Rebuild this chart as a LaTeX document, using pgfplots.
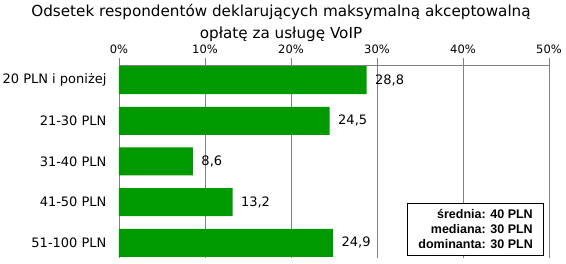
\documentclass[border=0pt]{standalone}
\usepackage{pgfplots}
\pgfplotsset{compat=1.18}
\usepackage{fontspec}
\setmainfont{DejaVu Sans}
\newfontfamily\legfont{Liberation Sans}
\definecolor{bargreen}{RGB}{0,153,0}
\definecolor{gridgray}{RGB}{128,128,128}
\begin{document}
\begin{tikzpicture}[x=1pt,y=1pt]
\useasboundingbox (-119,-6) rectangle (447,258);
\begin{axis}[
  at={(0,0)}, anchor=south west,
  scale only axis, width=430pt, height=193pt,
  xbar, bar width=28pt,
  xmin=0, xmax=50, ymin=-0.37, ymax=4.37, y dir=reverse,
  axis x line*=top, axis y line*=left,
  axis line style={gridgray},
  xtick={0,10,...,50},
  xticklabel={\pgfmathprintnumber{\tick}\%},
  xticklabel style={font=\fontsize{11.5}{14}\selectfont, yshift=1pt},
  tick align=outside, major tick length=7pt,
  tick style={gridgray},
  xmajorgrids, grid style={gridgray},
  ytick={0,1,2,3,4},
  yticklabels={20 PLN i poniżej,21-30 PLN,31-40 PLN,41-50 PLN,51-100 PLN},
  yticklabel style={font=\fontsize{13}{15}\selectfont, xshift=-2pt},
  ytick style={draw=none},
  /pgf/number format/assume math mode=true,
  nodes near coords,
  nodes near coords style={font=\fontsize{13}{15}\selectfont, anchor=west, xshift=5pt,
    /pgf/number format/.cd, fixed, precision=1, fixed zerofill, use comma},
  every node near coord/.append style={/pgf/number format/assume math mode=true},
]
\addplot[fill=bargreen, draw=none] coordinates {(28.8,0) (24.5,1) (8.6,2) (13.2,3) (24.9,4)};
\end{axis}
\node[font=\fontsize{15.2}{22}\selectfont, align=center, anchor=north] at (162,257)
  {Odsetek respondentów deklarujących maksymalną akceptowalną\\opłatę za usługę VoIP};
\node[draw=black, fill=white, line width=0.8pt, font=\legfont\bfseries\fontsize{12.5}{15}\selectfont,
  align=right, inner sep=3pt, minimum width=136pt, minimum height=52pt, anchor=north east]
  at (425,55) {średnia: 40 PLN\\mediana: 30 PLN\\dominanta: 30 PLN};
\end{tikzpicture}
\end{document}
